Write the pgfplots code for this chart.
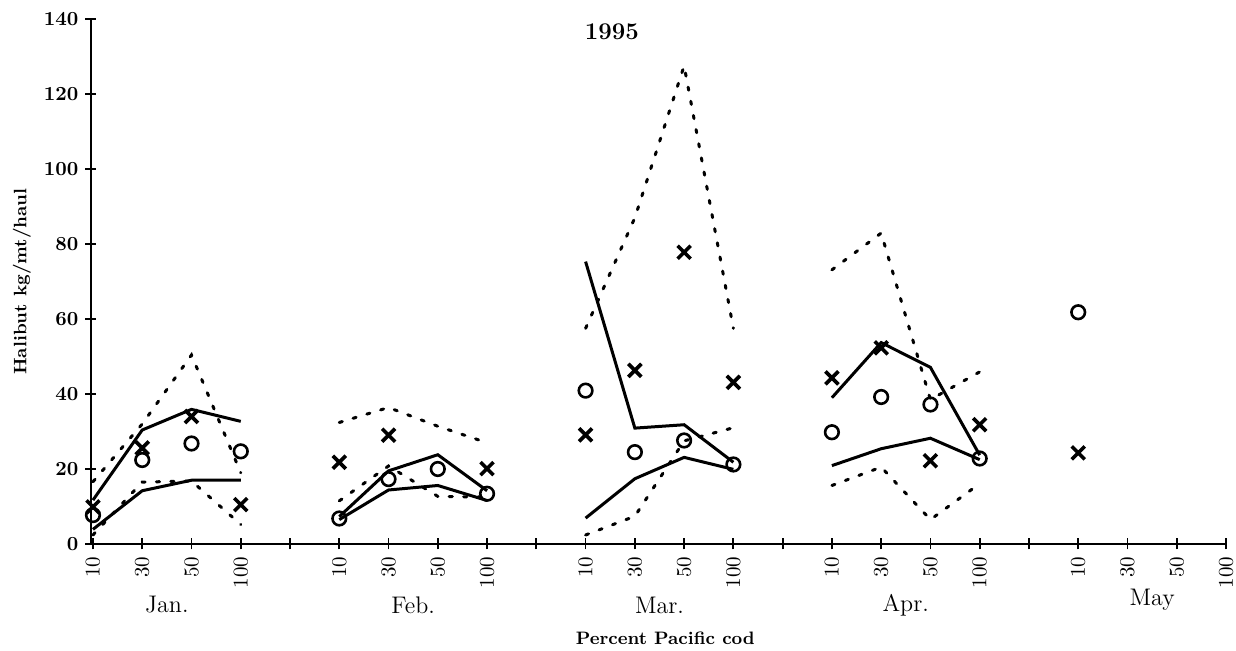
\documentclass[border=0pt]{standalone}
\usepackage{pgfplots}
\pgfplotsset{compat=1.18}
\begin{document}
\begin{tikzpicture}
\path[use as bounding box] (-45.5pt,-53.5pt) rectangle (572.5pt,272pt);
\begin{axis}[
  at={(0,0)}, anchor=south west,
  scale only axis, width=567.5pt, height=262.5pt,
  xmin=-0.04, xmax=23, ymin=0, ymax=140,
  axis lines*=left,
  ytick={0,20,...,140},
  xtick={0,...,23},
  xticklabels={10,30,50,100,,10,30,50,100,,10,30,50,100,,10,30,50,100,,10,30,50,100},
  x tick label style={rotate=90, anchor=east, font=\fontsize{10.5}{11}\selectfont},
  y tick label style={font=\bfseries\fontsize{10}{11}\selectfont},
  /pgf/number format/assume math mode=true,
  tick align=center, major tick length=5.5pt,
  tick style={black, line width=0.9pt},
  axis line style={line width=1.1pt},
  clip=false,
  unbounded coords=jump,
]
% upper solid
\addplot[black, line width=1.5pt] coordinates {
 (0,11.7) (1,30.4) (2,35.9) (3,32.7) (4,nan)
 (5,7.3) (6,19.5) (7,23.8) (8,14.2) (9,nan)
 (10,75.3) (11,30.9) (12,31.8) (13,21.8) (14,nan)
 (15,39) (16,53.7) (17,47.1) (18,23.7)};
% lower solid
\addplot[black, line width=1.5pt] coordinates {
 (0,3.9) (1,14.2) (2,17) (3,17) (4,nan)
 (5,6.5) (6,14.4) (7,15.6) (8,11.6) (9,nan)
 (10,6.9) (11,17.4) (12,23.1) (13,19.9) (14,nan)
 (15,20.9) (16,25.4) (17,28.2) (18,22.5)};
% upper dotted
\addplot[black, line width=1.5pt, line cap=round, dash pattern=on 1.6pt off 5.6pt] coordinates {
 (0,16.6) (1,32) (2,50.4) (3,19) (4,nan)
 (5,32.4) (6,36.4) (7,31.4) (8,27) (9,nan)
 (10,57.5) (11,87) (12,127.5) (13,57.5) (14,nan)
 (15,73.1) (16,82.9) (17,38.5) (18,45.9)};
% lower dotted
\addplot[black, line width=1.5pt, line cap=round, dash pattern=on 1.6pt off 5.6pt] coordinates {
 (0,2.4) (1,16.5) (2,16.8) (3,5.2) (4,nan)
 (5,11.5) (6,20.8) (7,12.7) (8,12.5) (9,nan)
 (10,2.4) (11,7.4) (12,27.5) (13,31) (14,nan)
 (15,15.6) (16,20.5) (17,6.5) (18,16.1)};
% x marks
\addplot[only marks, mark=x, mark size=4.6pt, mark options={line width=1.8pt, black}] coordinates {
 (0,9.9) (1,25.6) (2,34) (3,10.5)
 (5,21.8) (6,29) (8,20.1)
 (10,29.1) (11,46.3) (12,77.8) (13,43.1)
 (15,44.3) (16,52.3) (17,22.2) (18,31.8)
 (20,24.3)};
% circles
\addplot[only marks, mark=o, mark size=3.4pt, mark options={line width=1.3pt, black}] coordinates {
 (0,7.7) (1,22.4) (2,26.8) (3,24.7)
 (5,6.8) (6,17.3) (7,20) (8,13.4)
 (10,40.9) (11,24.5) (12,27.6) (13,21.2)
 (15,29.8) (16,39.2) (17,37.2) (18,22.8)
 (20,61.8)};
% month labels
\node[font=\fontsize{12}{13}\selectfont] at (axis cs:1.5,0) [yshift=-30.5pt] {Jan.};
\node[font=\fontsize{12}{13}\selectfont] at (axis cs:6.5,0) [yshift=-30.5pt] {Feb.};
\node[font=\fontsize{12}{13}\selectfont] at (axis cs:11.5,0) [yshift=-30.5pt] {Mar.};
\node[font=\fontsize{12}{13}\selectfont] at (axis cs:16.5,0) [yshift=-30.5pt] {Apr.};
\node[font=\fontsize{12}{13}\selectfont] at (axis cs:21.5,0) [yshift=-28pt] {May};
% title and labels
\node[font=\bfseries\fontsize{12}{14}\selectfont] at (rel axis cs:0.459,0.975) {1995};
\node[font=\bfseries\fontsize{9}{10}\selectfont, rotate=90] at (rel axis cs:-0.061,0.5) {Halibut kg/mt/haul};
\node[font=\bfseries\fontsize{9}{10}\selectfont] at (rel axis cs:0.506,-0.179) {Percent Pacific cod};
\end{axis}
\end{tikzpicture}
\end{document}
